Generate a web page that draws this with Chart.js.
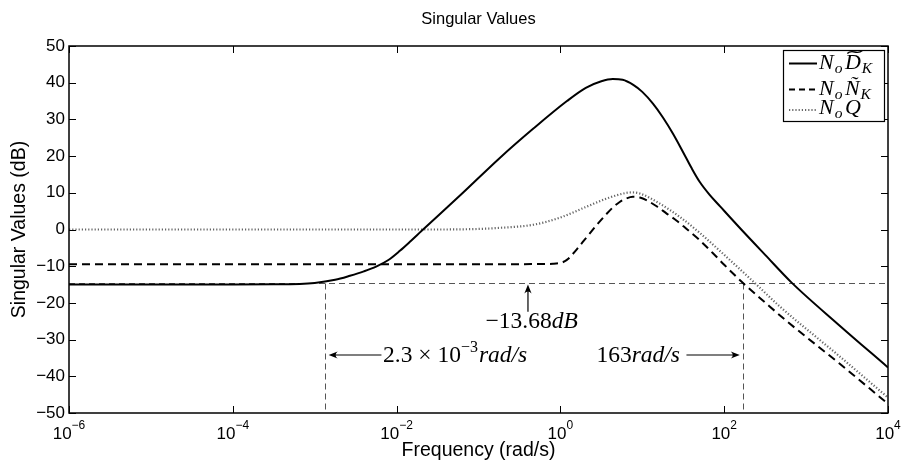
<!DOCTYPE html>
<html><head><meta charset="utf-8">
<script src="https://cdn.jsdelivr.net/npm/chart.js@4"></script>
<style>html,body{margin:0;padding:0;background:#fff}canvas{display:block}</style>
</head><body>
<canvas id="c" width="903" height="462"></canvas>
<script>
// ---- data (frequencies as log10(rad/s), values in dB) ----
const logFreqD = [-6, -4, -3.5, -3.0, -2.75, -2.57, -2.4, -2.25, -2.1, -1.96, -1.83, -1.70, -1.2, -0.74, -0.33, 0.08, 0.31, 0.5, 0.64, 0.76, 0.89, 1.0, 1.13, 1.25, 1.375, 1.5, 1.6, 1.70, 1.82, 1.95, 2.2, 2.5, 2.82, 3.4, 4];
const dbD      = [-15, -15, -14.95, -14.55, -13.7, -12.6, -11.4, -10.1, -8.3, -5.8, -3.2, -0.5, 9.8, 19.5, 27.5, 35.0, 38.6, 40.4, 41.0, 40.8, 39.4, 37.5, 34.3, 30.6, 26.1, 21.0, 16.8, 13.0, 9.5, 6.3, 0.2, -6.9, -14.4, -26.0, -37.6];
const logFreqN = [-6, -1, -0.2, -0.09, 0.0, 0.05, 0.1, 0.15, 0.2, 0.317, 0.45, 0.562, 0.65, 0.724, 0.8, 0.886, 0.97, 1.05, 1.17, 1.294, 1.42, 1.538, 1.70, 1.86, 2.0, 2.22, 2.5, 2.76, 3.4, 4];
const dbN      = [-9.45, -9.45, -9.42, -9.35, -9.1, -8.7, -7.9, -6.7, -5.4, -2.2, 1.4, 4.2, 6.2, 7.5, 8.4, 8.9, 8.7, 8.0, 6.4, 4.4, 2.4, 0.2, -2.9, -6.4, -9.6, -14.4, -19.9, -24.9, -36.4, -47.5];
const logFreqQ = [-6, -1.5, -1, -0.74, -0.33, -0.009, 0.317, 0.56, 0.80, 0.88, 0.97, 1.21, 1.46, 1.70, 2.0, 2.37, 2.68, 3.4, 4];
const dbQ      = [0, 0, 0.15, 0.45, 1.3, 3.2, 6.2, 8.4, 9.95, 10.1, 9.8, 7.1, 3.4, -0.9, -6.9, -14.5, -21.0, -34.4, -45.8];
const xTickExps = [-6, -4, -2, 0, 2, 4];
const yTickVals = [50, 40, 30, 20, 10, 0, -10, -20, -30, -40, -50];
const refLevelDb = -14.5;
const crossLogFreqs = [-2.87, 2.23];
const seriesNames = ['NoDK', 'NoNK', 'NoQ'];

const toPts = (lf, v) => lf.map((l, i) => ({x: Math.pow(10, l), y: v[i]}));

const SANS = "'Liberation Sans', Arial, Helvetica, sans-serif";
const SERIF = "'Liberation Serif', 'Times New Roman', serif";

function seq(ctx, x, y, parts) {
  for (const p of parts) {
    ctx.font = p.f;
    x += (p.dx || 0);
    ctx.fillText(p.t, x, y + (p.dy || 0));
    x += ctx.measureText(p.t).width;
  }
  return x;
}
function seqWidth(ctx, parts) {
  let w = 0;
  for (const p of parts) { ctx.font = p.f; w += (p.dx || 0) + ctx.measureText(p.t).width; }
  return w;
}
function arrow(ctx, x1, y1, x2, y2) {
  const ang = Math.atan2(y2 - y1, x2 - x1), L = 9, W = 3.6;
  ctx.beginPath(); ctx.moveTo(x1, y1);
  ctx.lineTo(x2 - Math.cos(ang) * 4, y2 - Math.sin(ang) * 4); ctx.stroke();
  const c = Math.cos(ang), s = Math.sin(ang);
  ctx.beginPath();
  ctx.moveTo(x2, y2);
  ctx.lineTo(x2 - L * c + W * s, y2 - L * s - W * c);
  ctx.quadraticCurveTo(x2 - 5 * c, y2 - 5 * s, x2 - L * c - W * s, y2 - L * s + W * c);
  ctx.closePath(); ctx.fill();
}
function tilde(ctx, cx, ty, w) {
  ctx.save(); ctx.lineWidth = 1.3; ctx.setLineDash([]);
  ctx.beginPath();
  const x0 = cx - w / 2;
  ctx.moveTo(x0, ty + 1.5);
  ctx.bezierCurveTo(x0 + w * 0.3, ty - 3.5, x0 + w * 0.65, ty + 3.5, x0 + w, ty - 1.5);
  ctx.stroke(); ctx.restore();
}

const deco = {
  id: 'deco',
  beforeDatasetsDraw(chart) {
    const {ctx, chartArea: a, scales: {x, y}} = chart;
    ctx.save();
    ctx.beginPath(); ctx.rect(a.left, a.top, a.right - a.left, a.bottom - a.top); ctx.clip();
    ctx.strokeStyle = '#555'; ctx.lineWidth = 1; ctx.setLineDash([6, 4]);
    const yh = Math.round(y.getPixelForValue(refLevelDb)) + 0.5;
    ctx.beginPath(); ctx.moveTo(a.left, yh); ctx.lineTo(a.right, yh); ctx.stroke();
    for (const lf of crossLogFreqs) {
      const px = Math.round(x.getPixelForValue(Math.pow(10, lf))) + 0.5;
      ctx.beginPath(); ctx.moveTo(px, yh); ctx.lineTo(px, a.bottom); ctx.stroke();
    }
    ctx.restore();
  },
  afterDraw(chart) {
    const {ctx, chartArea: a, scales: {x, y}} = chart;
    const X = lf => x.getPixelForValue(Math.pow(10, lf));
    const Y = v => y.getPixelForValue(v);
    ctx.save();
    ctx.fillStyle = '#000'; ctx.strokeStyle = '#000';
    // box
    ctx.lineWidth = 1.5; ctx.setLineDash([]);
    ctx.strokeRect(a.left, a.top, a.right - a.left, a.bottom - a.top);
    // ticks (inward)
    ctx.lineWidth = 1;
    const tl = 7;
    for (const v of yTickVals) {
      const py = Math.round(Y(v)) + 0.5;
      ctx.beginPath(); ctx.moveTo(a.left, py); ctx.lineTo(a.left + tl, py);
      ctx.moveTo(a.right, py); ctx.lineTo(a.right - tl, py); ctx.stroke();
    }
    for (const e of xTickExps) {
      const px = Math.round(X(e)) + 0.5;
      ctx.beginPath(); ctx.moveTo(px, a.bottom); ctx.lineTo(px, a.bottom - tl);
      ctx.moveTo(px, a.top); ctx.lineTo(px, a.top + tl); ctx.stroke();
    }
    // y tick labels
    ctx.font = `17px ${SANS}`; ctx.textAlign = 'right'; ctx.textBaseline = 'middle';
    for (const v of yTickVals) {
      ctx.fillText(String(v).replace('-', '\u2212'), a.left - 4, Y(v));
    }
    // x tick labels
    ctx.textAlign = 'left'; ctx.textBaseline = 'alphabetic';
    for (const e of xTickExps) {
      const parts = [{t: '10', f: `17px ${SANS}`}, {t: String(e).replace('-', '\u2212'), f: `12px ${SANS}`, dy: -10}];
      const w = seqWidth(ctx, parts);
      seq(ctx, X(e) - w / 2, a.bottom + 26, parts);
    }
    // title & axis titles
    ctx.textAlign = 'center'; ctx.textBaseline = 'middle';
    const cx = (a.left + a.right) / 2;
    ctx.font = `16.5px ${SANS}`; ctx.fillText('Singular Values', cx, 19);
    ctx.font = `19.5px ${SANS}`; ctx.fillText('Frequency (rad/s)', cx, 451);
    ctx.save(); ctx.translate(20, (a.top + a.bottom) / 2); ctx.rotate(-Math.PI / 2);
    ctx.fillText('Singular Values (dB)', 0, 0); ctx.restore();

    // annotations
    ctx.textAlign = 'left'; ctx.textBaseline = 'alphabetic';
    ctx.lineWidth = 1.2;
    const up = `23.5px ${SERIF}`, it = `italic 23.5px ${SERIF}`, sm = `16px ${SERIF}`;
    arrow(ctx, X(-0.396), Y(-22.4), X(-0.396), Y(-15.0));
    const p1 = [{t: '\u221213.68', f: up}, {t: 'dB', f: it}];
    seq(ctx, X(-0.35) - seqWidth(ctx, p1) / 2, Y(-26.95), p1);
    arrow(ctx, X(-2.185), Y(-34.2), X(-2.83), Y(-34.2));
    seq(ctx, X(-2.166), Y(-36.05), [{t: '2.3 \u00d7 10', f: up}, {t: '\u22123', f: sm, dy: -10}, {t: 'rad/s', f: it, dx: 1}]);
    seq(ctx, X(0.44), Y(-36.05), [{t: '163', f: up}, {t: 'rad/s', f: it}]);
    arrow(ctx, X(1.539), Y(-34.2), X(2.19), Y(-34.2));

    // legend
    const lx = 783, ly = 50, lw = 101, lh = 71;
    ctx.fillStyle = '#fff'; ctx.fillRect(lx, ly, lw, lh);
    ctx.fillStyle = '#000'; ctx.lineWidth = 1.2; ctx.strokeRect(lx + 0.5, ly + 0.5, lw, lh);
    const rows = [63.5, 89.5, 110];
    const styles = [
      {c: '#000', d: [], w: 2},
      {c: '#000', d: [6, 4], w: 2},
      {c: '#666', d: [1.2, 2], w: 2.2}
    ];
    rows.forEach((ry, i) => {
      ctx.strokeStyle = styles[i].c; ctx.lineWidth = styles[i].w; ctx.setLineDash(styles[i].d);
      ctx.beginPath(); ctx.moveTo(789, ry); ctx.lineTo(817, ry); ctx.stroke();
    });
    ctx.setLineDash([]); ctx.strokeStyle = '#000';
    const lf = `italic 22px ${SERIF}`, lsf = `italic 15.5px ${SERIF}`;
    // row 1: N_o D~_K
    let xx = seq(ctx, 819, 69, [{t: 'N', f: lf}, {t: 'o', f: lsf, dy: 4, dx: 1}]);
    xx += 2.5;
    ctx.font = lf; const dW = ctx.measureText('D').width;
    seq(ctx, xx, 69, [{t: 'D', f: lf}, {t: 'K', f: lsf, dy: 4, dx: 1}]);
    tilde(ctx, xx + dW / 2 + 2, 52, dW * 0.95);
    // row 2: N_o N~_K
    seq(ctx, 819, 95, [{t: 'N', f: lf}, {t: 'o', f: lsf, dy: 4, dx: 1}, {t: '\u00d1', f: lf, dx: 2.5}, {t: 'K', f: lsf, dy: 4, dx: 1}]);
    // row 3: N_o Q
    seq(ctx, 819, 114, [{t: 'N', f: lf}, {t: 'o', f: lsf, dy: 4, dx: 1}, {t: 'Q', f: lf, dx: 2.5}]);
    ctx.restore();
  }
};

new Chart(document.getElementById('c'), {
  type: 'line',
  data: {
    datasets: [
      {label: seriesNames[0], data: toPts(logFreqD, dbD), borderColor: '#000', borderWidth: 2, cubicInterpolationMode: 'monotone'},
      {label: seriesNames[1], data: toPts(logFreqN, dbN), borderColor: '#000', borderWidth: 2, borderDash: [8, 5], cubicInterpolationMode: 'monotone'},
      {label: seriesNames[2], data: toPts(logFreqQ, dbQ), borderColor: '#666', borderWidth: 2.2, borderDash: [1.2, 2], cubicInterpolationMode: 'monotone'}
    ]
  },
  options: {
    responsive: false, animation: false, devicePixelRatio: 1,
    layout: {padding: {left: 69, right: 15, top: 46, bottom: 49}},
    elements: {point: {radius: 0}},
    scales: {
      x: {type: 'logarithmic', min: 1e-6, max: 1e4, display: false},
      y: {type: 'linear', min: -50, max: 50, display: false}
    },
    plugins: {legend: {display: false}, tooltip: {enabled: false}, title: {display: false}}
  },
  plugins: [deco]
});
</script>
</body></html>
